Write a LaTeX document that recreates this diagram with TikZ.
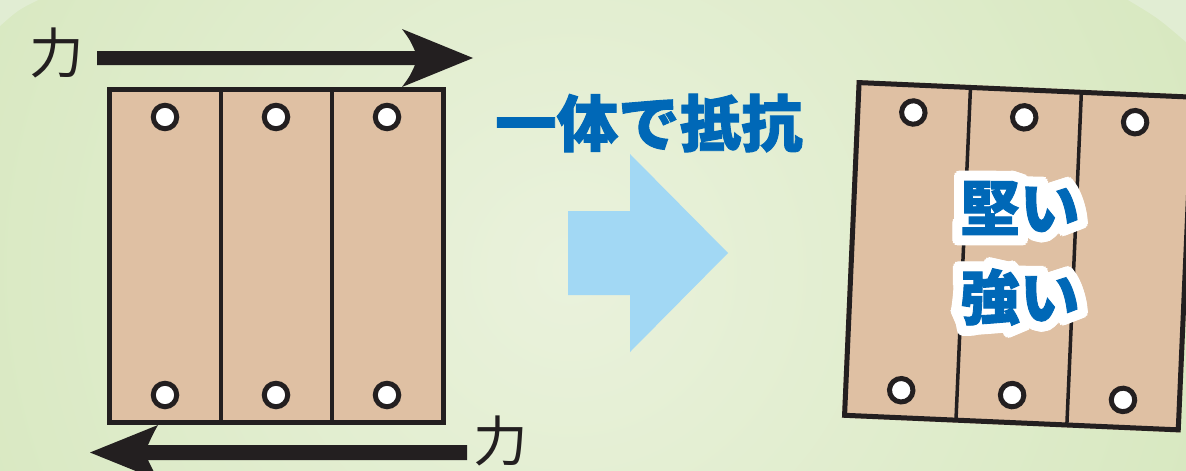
\documentclass[tikz,border=0pt]{standalone}
\usepackage{fontspec}
\newfontfamily\jp{Noto Sans CJK JP}
\newfontfamily\jpheavy{Noto Sans CJK JP}[FakeBold=1.5]
\newfontfamily\jphalo{Noto Sans CJK JP}[FakeBold=20]
\definecolor{bgin}{HTML}{EAF2DC}
\definecolor{bgout}{HTML}{C9E0AA}
\definecolor{bgcorner}{HTML}{E1EDD3}
\definecolor{wood}{HTML}{DFC0A3}
\definecolor{ink}{HTML}{231F20}
\definecolor{jblue}{HTML}{0068B7}
\definecolor{lblue}{HTML}{A2D8F4}
\tikzset{
  frame/.style={draw=ink,line width=0.1cm},
  divider/.style={draw=ink,line width=0.07cm},
  hole/.style={draw=ink,fill=white,line width=0.1cm},
  forcelabel/.style={font=\jp\fontsize{31}{31}\selectfont,text=ink,inner sep=0pt},
  headline/.style={font=\jpheavy\bfseries\fontsize{35}{35}\selectfont,text=jblue,inner sep=0pt},
  boxtext/.style={font=\jpheavy\bfseries\fontsize{34}{34}\selectfont,text=jblue,inner sep=0pt},
  halotext/.style={font=\jphalo\bfseries\fontsize{34}{34}\selectfont,text=white,inner sep=0pt},
  panel/.pic={
    \fill[wood] (0,0) rectangle (339,338);
    \draw[divider] (114,2) -- (114,336);
    \draw[divider] (225,2) -- (225,336);
    \draw[frame] (2.5,2.5) rectangle (336.5,335.5);
    \foreach \x in {58,169,280}{
      \draw[hole] (\x,30) circle[radius=0.235cm];
      \draw[hole] (\x,308) circle[radius=0.235cm];
    }
  }
}
\begin{document}
\begin{tikzpicture}[x=0.02cm,y=-0.02cm]
\useasboundingbox (0,0) rectangle (1186,470);
% background
\begin{scope}
  \clip (0,0) rectangle (1186,470);
  \shade[inner color=bgin,outer color=bgout] (570,270) circle (24cm);
  \fill[bgcorner] (0,0) -- (38,0) .. controls (18,10) .. (0,26) -- cycle;
  \fill[bgcorner] (1128,0) -- (1186,0) -- (1186,42) .. controls (1158,18) .. (1128,0) -- cycle;
\end{scope}
% left panel
\begin{scope}[shift={(107,87)}]
  \pic {panel};
\end{scope}
% right panel (deformed as one piece)
\begin{scope}[shift={(856.7,80)},rotate=-2.5]
  \pic[transform shape] {panel};
\end{scope}
% force arrows
\fill[ink] (97,51) -- (415,51) .. controls (410,40) .. (402,29) -- (473,58)
  -- (402,87) .. controls (410,76) .. (415,65) -- (97,65) -- cycle;
\fill[ink] (467,445) -- (148,445) .. controls (153,434) .. (158,425) -- (90,452.5)
  -- (158,480) .. controls (153,471) .. (148,460) -- (467,460) -- cycle;
\node[forcelabel] (f1) at (57,53) {力};
\node[forcelabel] (f2) at (501,441) {力};
% big arrow
\fill[lblue] (568,211) -- (630,211) -- (630,154) -- (728,253) -- (630,352) -- (630,295) -- (568,295) -- cycle;
\node[headline] (head) at (649,123) {一体で抵抗};
% text in right panel with a rounded white halo
\foreach \a in {0,30,...,330}{
  \path (1020,208) ++(\a:0.09cm) node[halotext] (haloA\a) {堅い};
  \path (1020,297) ++(\a:0.09cm) node[halotext] (haloB\a) {強い};
}
\node[boxtext] (hard) at (1020,208) {堅い};
\node[boxtext] (strong) at (1020,297) {強い};
\end{tikzpicture}
\end{document}
